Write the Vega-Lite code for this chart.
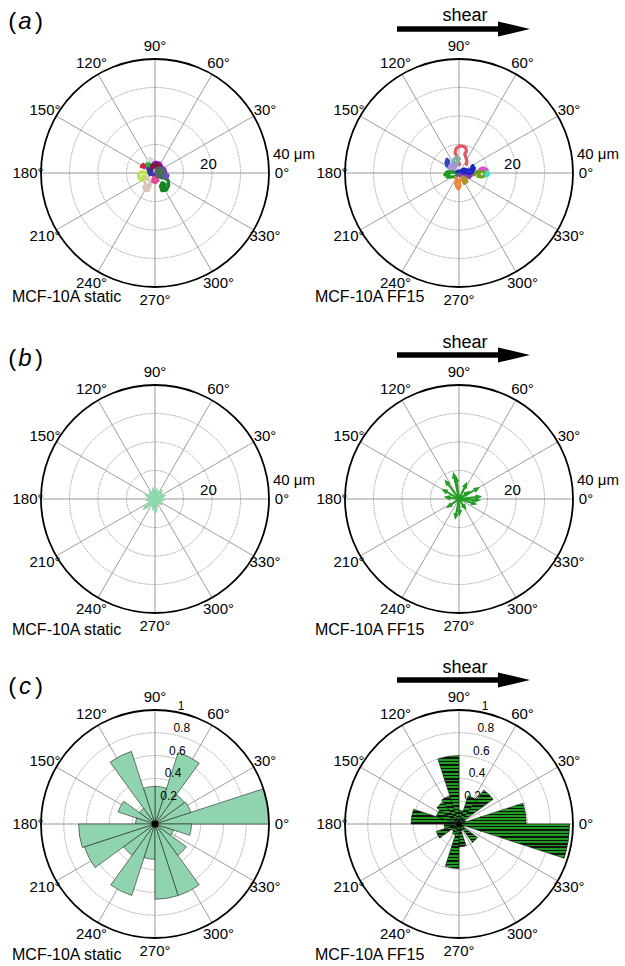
{
"$schema":"https://vega.github.io/schema/vega-lite/v6.json",
"width":625,"height":966,"autosize":{"type":"none"},"padding":0,
"background":"white",
"config":{"font":"Liberation Sans","view":{"stroke":null},"axis":{"disable":true},"legend":{"disable":true},"text":{"color":"#000000"}},
"datasets":{
"angles":[{"deg":0,"label":"0°"},{"deg":30,"label":"30°"},{"deg":60,"label":"60°"},{"deg":90,"label":"90°"},{"deg":120,"label":"120°"},{"deg":150,"label":"150°"},{"deg":180,"label":"180°"},{"deg":210,"label":"210°"},{"deg":240,"label":"240°"},{"deg":270,"label":"270°"},{"deg":300,"label":"300°"},{"deg":330,"label":"330°"}],
"rings40":[{"r":10},{"r":20},{"r":30}],
"rings1":[{"r":0.2},{"r":0.4},{"r":0.6},{"r":0.8}],
"ticks1":[{"r":0.2,"label":"0.2"},{"r":0.4,"label":"0.4"},{"r":0.6,"label":"0.6"},{"r":0.8,"label":"0.8"},{"r":1,"label":"1"}],
"trajS":[
{"id":"s01","t":1,"x":-1.6,"y":1.0},{"id":"s01","t":2,"x":-1.8,"y":2.4},{"id":"s01","t":3,"x":-1.2,"y":3.4},{"id":"s01","t":4,"x":0.4,"y":3.8},{"id":"s01","t":5,"x":1.8,"y":3.4},{"id":"s01","t":6,"x":2.4,"y":2.2},{"id":"s01","t":7,"x":3.4,"y":1.4},{"id":"s01","t":8,"x":3.8,"y":0.2},{"id":"s01","t":9,"x":3.4,"y":-0.8},
{"id":"s02","t":1,"x":-2.6,"y":-0.2},{"id":"s02","t":2,"x":-3.6,"y":0.2},{"id":"s02","t":3,"x":-4.8,"y":0.4},{"id":"s02","t":4,"x":-5.8,"y":-0.4},{"id":"s02","t":5,"x":-5.6,"y":-1.8},{"id":"s02","t":6,"x":-4.6,"y":-2.6},{"id":"s02","t":7,"x":-3.8,"y":-2.0},{"id":"s02","t":8,"x":-4.4,"y":-1.2},{"id":"s02","t":9,"x":-3.4,"y":-1.2},{"id":"s02","t":10,"x":-3.0,"y":-2.2},
{"id":"s03","t":1,"x":-3.4,"y":-1.8},{"id":"s03","t":2,"x":-2.4,"y":-2.2},{"id":"s03","t":3,"x":-1.6,"y":-3.2},{"id":"s03","t":4,"x":-1.8,"y":-4.8},{"id":"s03","t":5,"x":-2.4,"y":-6.2},{"id":"s03","t":6,"x":-3.6,"y":-6.0},{"id":"s03","t":7,"x":-4.0,"y":-4.8},{"id":"s03","t":8,"x":-3.2,"y":-4.2},{"id":"s03","t":9,"x":-2.6,"y":-5.2},{"id":"s03","t":10,"x":-3.6,"y":-3.2},
{"id":"s04","t":1,"x":-0.4,"y":-1.2},{"id":"s04","t":2,"x":0.6,"y":-1.6},{"id":"s04","t":3,"x":0.9,"y":-2.6},{"id":"s04","t":4,"x":0.2,"y":-3.4},{"id":"s04","t":5,"x":-0.8,"y":-3.0},{"id":"s04","t":6,"x":-0.6,"y":-2.0},{"id":"s04","t":7,"x":0.2,"y":-2.4},
{"id":"s05","t":1,"x":2.0,"y":-1.6},{"id":"s05","t":2,"x":3.4,"y":-1.8},{"id":"s05","t":3,"x":4.6,"y":-2.6},{"id":"s05","t":4,"x":4.8,"y":-4.4},{"id":"s05","t":5,"x":4.0,"y":-6.0},{"id":"s05","t":6,"x":2.4,"y":-6.2},{"id":"s05","t":7,"x":1.9,"y":-4.6},{"id":"s05","t":8,"x":2.6,"y":-3.4},{"id":"s05","t":9,"x":3.6,"y":-4.0},{"id":"s05","t":10,"x":3.2,"y":-5.2},{"id":"s05","t":11,"x":2.6,"y":-4.6},
{"id":"s06","t":1,"x":2.4,"y":-0.6},{"id":"s06","t":2,"x":3.6,"y":-0.2},{"id":"s06","t":3,"x":4.6,"y":-0.8},{"id":"s06","t":4,"x":4.2,"y":-1.8},{"id":"s06","t":5,"x":3.2,"y":-1.4},
{"id":"s07","t":1,"x":-4.8,"y":2.2},{"id":"s07","t":2,"x":-4.2,"y":3.0},{"id":"s07","t":3,"x":-3.4,"y":2.6},{"id":"s07","t":4,"x":-3.8,"y":1.8},
{"id":"s08","t":1,"x":-2.8,"y":3.4},{"id":"s08","t":2,"x":-2.0,"y":3.8},{"id":"s08","t":3,"x":-1.6,"y":2.8},{"id":"s08","t":4,"x":-2.6,"y":2.6},
{"id":"s09","t":1,"x":-2.6,"y":4.2},{"id":"s09","t":2,"x":-1.8,"y":5.2},{"id":"s09","t":3,"x":-1.0,"y":4.8},{"id":"s09","t":4,"x":-1.4,"y":4.0},
{"id":"s10","t":1,"x":-2.6,"y":1.6},{"id":"s10","t":2,"x":-2.2,"y":0.4},{"id":"s10","t":3,"x":-1.8,"y":-0.6},{"id":"s10","t":4,"x":-1.2,"y":0.4},{"id":"s10","t":5,"x":-1.4,"y":1.4},
{"id":"s11","t":1,"x":-1.0,"y":-0.6},{"id":"s11","t":2,"x":0.2,"y":-0.4},{"id":"s11","t":3,"x":1.2,"y":-1.0},
{"id":"s12","t":1,"x":-1.0,"y":1.4},{"id":"s12","t":2,"x":-1.2,"y":2.6},{"id":"s12","t":3,"x":-0.2,"y":3.2},{"id":"s12","t":4,"x":1.0,"y":3.3},{"id":"s12","t":5,"x":1.8,"y":2.6},{"id":"s12","t":6,"x":1.0,"y":1.8},{"id":"s12","t":7,"x":0.0,"y":2.0},{"id":"s12","t":8,"x":0.6,"y":2.8},{"id":"s12","t":9,"x":-0.6,"y":2.4},
{"id":"s13","t":1,"x":0.4,"y":0.6},{"id":"s13","t":2,"x":1.0,"y":1.6},{"id":"s13","t":3,"x":2.2,"y":1.8},{"id":"s13","t":4,"x":3.0,"y":0.9},{"id":"s13","t":5,"x":3.0,"y":-0.3},{"id":"s13","t":6,"x":2.4,"y":-1.2},{"id":"s13","t":7,"x":1.2,"y":-1.4},{"id":"s13","t":8,"x":0.4,"y":-0.6},{"id":"s13","t":9,"x":1.0,"y":0.2},{"id":"s13","t":10,"x":2.2,"y":0.6},{"id":"s13","t":11,"x":2.2,"y":-0.6},{"id":"s13","t":12,"x":1.4,"y":-0.4},{"id":"s13","t":13,"x":1.6,"y":0.8}
],
"trajF":[
{"id":"f01","t":1,"x":0.2,"y":3.0},{"id":"f01","t":2,"x":-0.4,"y":4.4},{"id":"f01","t":3,"x":-0.8,"y":5.8},{"id":"f01","t":4,"x":-1.4,"y":7.2},{"id":"f01","t":5,"x":-1.0,"y":8.6},{"id":"f01","t":6,"x":0.0,"y":9.4},{"id":"f01","t":7,"x":1.4,"y":9.4},{"id":"f01","t":8,"x":2.4,"y":8.8},{"id":"f01","t":9,"x":2.6,"y":7.6},{"id":"f01","t":10,"x":2.0,"y":6.6},{"id":"f01","t":11,"x":2.4,"y":5.4},{"id":"f01","t":12,"x":2.8,"y":4.2},{"id":"f01","t":13,"x":2.6,"y":3.0},
{"id":"f02","t":1,"x":-2.2,"y":3.4},{"id":"f02","t":2,"x":-1.8,"y":4.8},{"id":"f02","t":3,"x":-0.8,"y":5.6},{"id":"f02","t":4,"x":0.2,"y":5.0},{"id":"f02","t":5,"x":-0.4,"y":4.0},{"id":"f02","t":6,"x":-1.4,"y":3.6},{"id":"f02","t":7,"x":-0.6,"y":3.0},
{"id":"f03","t":1,"x":-4.2,"y":2.4},{"id":"f03","t":2,"x":-4.6,"y":3.6},{"id":"f03","t":3,"x":-4.2,"y":4.8},{"id":"f03","t":4,"x":-3.6,"y":4.2},{"id":"f03","t":5,"x":-3.8,"y":3.0},
{"id":"f04","t":1,"x":-3.6,"y":1.6},{"id":"f04","t":2,"x":-3.0,"y":2.8},{"id":"f04","t":3,"x":-2.0,"y":3.2},{"id":"f04","t":4,"x":-1.0,"y":2.4},{"id":"f04","t":5,"x":-1.6,"y":1.4},{"id":"f04","t":6,"x":-2.8,"y":1.0},{"id":"f04","t":7,"x":-2.2,"y":2.0},
{"id":"f05","t":1,"x":-5.0,"y":-0.6},{"id":"f05","t":2,"x":-4.2,"y":0.4},{"id":"f05","t":3,"x":-2.8,"y":0.4},{"id":"f05","t":4,"x":-1.4,"y":0.2},{"id":"f05","t":5,"x":-0.4,"y":-0.2},{"id":"f05","t":6,"x":-1.0,"y":-1.2},{"id":"f05","t":7,"x":-2.6,"y":-1.4},{"id":"f05","t":8,"x":-4.2,"y":-1.4},{"id":"f05","t":9,"x":-3.4,"y":-0.4},
{"id":"f06","t":1,"x":5.4,"y":-0.6},{"id":"f06","t":2,"x":6.4,"y":0.6},{"id":"f06","t":3,"x":7.8,"y":0.8},{"id":"f06","t":4,"x":9.0,"y":0.4},{"id":"f06","t":5,"x":9.2,"y":-0.8},{"id":"f06","t":6,"x":8.0,"y":-1.4},{"id":"f06","t":7,"x":6.6,"y":-1.2},{"id":"f06","t":8,"x":7.2,"y":-0.2},
{"id":"f07","t":1,"x":7.4,"y":1.4},{"id":"f07","t":2,"x":8.6,"y":1.8},{"id":"f07","t":3,"x":9.8,"y":1.2},{"id":"f07","t":4,"x":10.0,"y":0.0},
{"id":"f08","t":1,"x":9.4,"y":-0.6},{"id":"f08","t":2,"x":10.0,"y":0.4},{"id":"f08","t":3,"x":10.4,"y":-0.4},{"id":"f08","t":4,"x":9.8,"y":-1.0},
{"id":"f09","t":1,"x":-0.2,"y":-0.6},{"id":"f09","t":2,"x":1.0,"y":-1.2},{"id":"f09","t":3,"x":2.4,"y":-0.8},{"id":"f09","t":4,"x":3.6,"y":-1.6},{"id":"f09","t":5,"x":4.4,"y":-0.8},{"id":"f09","t":6,"x":3.0,"y":0.0},{"id":"f09","t":7,"x":1.6,"y":-0.2},
{"id":"f10","t":1,"x":-1.2,"y":-1.6},{"id":"f10","t":2,"x":-0.6,"y":-2.6},{"id":"f10","t":3,"x":-1.2,"y":-3.6},{"id":"f10","t":4,"x":-0.8,"y":-4.8},{"id":"f10","t":5,"x":-0.2,"y":-5.6},{"id":"f10","t":6,"x":0.4,"y":-4.4},{"id":"f10","t":7,"x":0.0,"y":-3.2},{"id":"f10","t":8,"x":0.6,"y":-2.2},
{"id":"f11","t":1,"x":1.2,"y":-1.4},{"id":"f11","t":2,"x":2.4,"y":-2.0},{"id":"f11","t":3,"x":2.8,"y":-3.0},{"id":"f11","t":4,"x":1.8,"y":-3.6},{"id":"f11","t":5,"x":1.4,"y":-2.6},
{"id":"f12","t":1,"x":-0.8,"y":0.4},{"id":"f12","t":2,"x":0.6,"y":0.8},{"id":"f12","t":3,"x":1.8,"y":1.4},{"id":"f12","t":4,"x":3.0,"y":1.0},{"id":"f12","t":5,"x":4.2,"y":1.2},{"id":"f12","t":6,"x":4.8,"y":2.6},{"id":"f12","t":7,"x":5.4,"y":1.6},{"id":"f12","t":8,"x":4.8,"y":0.2},{"id":"f12","t":9,"x":3.6,"y":-0.2},{"id":"f12","t":10,"x":2.2,"y":0.2},{"id":"f12","t":11,"x":1.0,"y":0.0}
],
"arrS":[{"x":-0.6,"y":3.4,"dir":100},{"x":0.6,"y":3.0,"dir":78.7},{"x":2.2,"y":2.6,"dir":49.8},{"x":3.0,"y":1.0,"dir":18.4},{"x":2.6,"y":-0.4,"dir":351.3},{"x":2.0,"y":-1.6,"dir":321.3},{"x":0.6,"y":-2.4,"dir":284},{"x":0.2,"y":-4.4,"dir":272.6},{"x":-0.6,"y":-3.2,"dir":259.4},{"x":-2.0,"y":-2.2,"dir":227.7},{"x":-3.6,"y":-3.2,"dir":221.6},{"x":-2.6,"y":-0.4,"dir":188.7},{"x":-2.8,"y":1.2,"dir":156.8},{"x":-1.6,"y":2.2,"dir":126},{"x":1.4,"y":-1.2,"dir":319.4}],
"arrF":[{"x":-1.8,"y":8.4,"dir":102.1},{"x":-1.0,"y":7.2,"dir":97.9},{"x":-4.4,"y":6.0,"dir":126.3},{"x":-5.2,"y":3.0,"dir":150},{"x":6.4,"y":3.6,"dir":29.4},{"x":7.0,"y":0.8,"dir":6.5},{"x":6.6,"y":-0.4,"dir":356.5},{"x":5.4,"y":-1.6,"dir":343.5},{"x":3.0,"y":2.2,"dir":36.3},{"x":2.0,"y":-3.0,"dir":303.7},{"x":-1.2,"y":-6.2,"dir":259},{"x":0.2,"y":-5.0,"dir":272.3},{"x":-3.6,"y":-2.6,"dir":215.8},{"x":-4.2,"y":0.6,"dir":171.9},{"x":2.4,"y":5.0,"dir":64.4}],
"roseS":[{"a0":0,"a1":18,"r":1.0},{"a0":18,"a1":36,"r":0.33},{"a0":36,"a1":54,"r":0.32},{"a0":54,"a1":72,"r":0.66},{"a0":72,"a1":90,"r":0.33},{"a0":90,"a1":108,"r":0.33},{"a0":108,"a1":126,"r":0.67},{"a0":126,"a1":144,"r":0.17},{"a0":144,"a1":162,"r":0.34},{"a0":162,"a1":180,"r":0.17},{"a0":180,"a1":198,"r":0.67},{"a0":198,"a1":216,"r":0.65},{"a0":216,"a1":234,"r":0.34},{"a0":234,"a1":252,"r":0.66},{"a0":252,"a1":270,"r":0.31},{"a0":270,"a1":288,"r":0.66},{"a0":288,"a1":306,"r":0.66},{"a0":306,"a1":324,"r":0.34},{"a0":324,"a1":342,"r":0.17},{"a0":342,"a1":360,"r":0.32}],
"roseF":[{"a0":0,"a1":18,"r":0.59},{"a0":18,"a1":36,"r":0.06},{"a0":36,"a1":54,"r":0.37},{"a0":54,"a1":72,"r":0.26},{"a0":72,"a1":90,"r":0.12},{"a0":90,"a1":108,"r":0.6},{"a0":108,"a1":126,"r":0.26},{"a0":126,"a1":144,"r":0.24},{"a0":144,"a1":162,"r":0.21},{"a0":162,"a1":180,"r":0.42},{"a0":180,"a1":198,"r":0.13},{"a0":198,"a1":216,"r":0.21},{"a0":216,"a1":234,"r":0.08},{"a0":234,"a1":252,"r":0.1},{"a0":252,"a1":270,"r":0.39},{"a0":270,"a1":288,"r":0.2},{"a0":288,"a1":306,"r":0.06},{"a0":306,"a1":324,"r":0.2},{"a0":324,"a1":342,"r":0.05},{"a0":342,"a1":360,"r":0.97}]
},
"resolve":{"scale":{"x":"independent","y":"independent","radius":"independent","color":"independent"}},
"layer":[
{"layer":[
{"data":{"name":"angles"},"mark":{"type":"arc","filled":false,"stroke":"#8a8a8a","strokeWidth":0.8,"strokeDash":[1.5,1]},"encoding":{"x":{"datum":0,"type":"quantitative","scale":{"domain":[-54.386,164.912],"nice":false}},"y":{"datum":0,"type":"quantitative","scale":{"domain":[-278.246,60.702],"nice":false}},"theta":{"field":"deg","type":"quantitative","stack":null,"scale":{"domain":[0,360],"range":[1.5707963,-4.712389]}},"theta2":{"field":"deg"},"radius":{"datum":40,"type":"quantitative","scale":{"type":"linear","domain":[0,40],"range":[0,114]}}}},
{"data":{"name":"rings40"},"mark":{"type":"arc","filled":false,"theta":0,"theta2":6.2832,"stroke":"#8a8a8a","strokeWidth":0.8,"strokeDash":[1.5,1]},"encoding":{"x":{"datum":0,"type":"quantitative"},"y":{"datum":0,"type":"quantitative"},"radius":{"field":"r","type":"quantitative","stack":null,"scale":{"type":"linear","domain":[0,40],"range":[0,114]}}}},
{"data":{"values":[{"r":40}]},"mark":{"type":"arc","filled":false,"theta":0,"theta2":6.2832,"stroke":"#000000","strokeWidth":1.8},"encoding":{"x":{"datum":0,"type":"quantitative"},"y":{"datum":0,"type":"quantitative"},"radius":{"field":"r","type":"quantitative","stack":null,"scale":{"type":"linear","domain":[0,40],"range":[0,114]}}}},
{"data":{"name":"angles"},"mark":{"type":"text","fontSize":15,"align":"center","baseline":"middle"},"encoding":{"x":{"datum":0,"type":"quantitative"},"y":{"datum":0,"type":"quantitative"},"theta":{"field":"deg","type":"quantitative","stack":null,"scale":{"domain":[0,360],"range":[1.5707963,-4.712389]}},"radius":{"datum":44.56,"type":"quantitative","scale":{"type":"linear","domain":[0,40],"range":[0,114]}},"text":{"field":"label"}}},
{"data":{"values":[{"r":20,"label":"20"}]},"mark":{"type":"text","fontSize":15,"align":"right","baseline":"middle","dx":5.5},"encoding":{"x":{"datum":0,"type":"quantitative"},"y":{"datum":0,"type":"quantitative"},"theta":{"datum":9.4,"type":"quantitative","scale":{"domain":[0,360],"range":[1.5707963,-4.712389]}},"radius":{"field":"r","type":"quantitative","stack":null,"scale":{"type":"linear","domain":[0,40],"range":[0,114]}},"text":{"field":"label"}}},
{"data":{"values":[{"r":40,"label":"40 μm"}]},"mark":{"type":"text","fontSize":15,"align":"left","baseline":"middle","dx":5.5},"encoding":{"x":{"datum":0,"type":"quantitative"},"y":{"datum":0,"type":"quantitative"},"theta":{"datum":9.6,"type":"quantitative","scale":{"domain":[0,360],"range":[1.5707963,-4.712389]}},"radius":{"field":"r","type":"quantitative","stack":null,"scale":{"type":"linear","domain":[0,40],"range":[0,114]}},"text":{"field":"label"}}},
{"data":{"name":"trajS"},"mark":{"type":"line","strokeWidth":3.2,"strokeJoin":"round","strokeCap":"round"},"encoding":{"x":{"field":"x","type":"quantitative"},"y":{"field":"y","type":"quantitative"},"color":{"field":"id","type":"nominal","scale":{"domain":["s01","s02","s03","s04","s05","s06","s07","s08","s09","s10","s11","s12","s13"],"range":["#a21cf0","#b8e34c","#d9c6b8","#e5489a","#15861f","#6c50d2","#d3243f","#26b031","#cfe5d7","#2e3a9e","#5a2ab0","#7d1747","#4c6b5e"]}},"order":{"field":"t"}}},
{"data":{"values":[{}]},"mark":{"type":"text","text":"MCF-10A static","fontSize":16,"align":"left","baseline":"alphabetic"},"encoding":{"x":{"datum":-50.18,"type":"quantitative"},"y":{"datum":-45.16,"type":"quantitative"}}},
{"data":{"values":[{}]},"mark":{"type":"text","text":"(","fontSize":24,"align":"center","baseline":"middle"},"encoding":{"x":{"datum":-50.07,"type":"quantitative"},"y":{"datum":52.98,"type":"quantitative"}}},
{"data":{"values":[{}]},"mark":{"type":"text","text":"a","fontSize":24,"fontStyle":"italic","align":"center","baseline":"middle"},"encoding":{"x":{"datum":-45.61,"type":"quantitative"},"y":{"datum":52.98,"type":"quantitative"}}},
{"data":{"values":[{}]},"mark":{"type":"text","text":")","fontSize":24,"align":"center","baseline":"middle"},"encoding":{"x":{"datum":-40.7,"type":"quantitative"},"y":{"datum":52.98,"type":"quantitative"}}}
]},
{"layer":[
{"data":{"name":"angles"},"mark":{"type":"arc","filled":false,"stroke":"#8a8a8a","strokeWidth":0.8,"strokeDash":[1.5,1]},"encoding":{"x":{"datum":0,"type":"quantitative","scale":{"domain":[-161.053,58.246],"nice":false}},"y":{"datum":0,"type":"quantitative","scale":{"domain":[-278.246,60.702],"nice":false}},"theta":{"field":"deg","type":"quantitative","stack":null,"scale":{"domain":[0,360],"range":[1.5707963,-4.712389]}},"theta2":{"field":"deg"},"radius":{"datum":40,"type":"quantitative","scale":{"type":"linear","domain":[0,40],"range":[0,114]}}}},
{"data":{"name":"rings40"},"mark":{"type":"arc","filled":false,"theta":0,"theta2":6.2832,"stroke":"#8a8a8a","strokeWidth":0.8,"strokeDash":[1.5,1]},"encoding":{"x":{"datum":0,"type":"quantitative"},"y":{"datum":0,"type":"quantitative"},"radius":{"field":"r","type":"quantitative","stack":null,"scale":{"type":"linear","domain":[0,40],"range":[0,114]}}}},
{"data":{"values":[{"r":40}]},"mark":{"type":"arc","filled":false,"theta":0,"theta2":6.2832,"stroke":"#000000","strokeWidth":1.8},"encoding":{"x":{"datum":0,"type":"quantitative"},"y":{"datum":0,"type":"quantitative"},"radius":{"field":"r","type":"quantitative","stack":null,"scale":{"type":"linear","domain":[0,40],"range":[0,114]}}}},
{"data":{"name":"angles"},"mark":{"type":"text","fontSize":15,"align":"center","baseline":"middle"},"encoding":{"x":{"datum":0,"type":"quantitative"},"y":{"datum":0,"type":"quantitative"},"theta":{"field":"deg","type":"quantitative","stack":null,"scale":{"domain":[0,360],"range":[1.5707963,-4.712389]}},"radius":{"datum":44.56,"type":"quantitative","scale":{"type":"linear","domain":[0,40],"range":[0,114]}},"text":{"field":"label"}}},
{"data":{"values":[{"r":20,"label":"20"}]},"mark":{"type":"text","fontSize":15,"align":"right","baseline":"middle","dx":5.5},"encoding":{"x":{"datum":0,"type":"quantitative"},"y":{"datum":0,"type":"quantitative"},"theta":{"datum":9.4,"type":"quantitative","scale":{"domain":[0,360],"range":[1.5707963,-4.712389]}},"radius":{"field":"r","type":"quantitative","stack":null,"scale":{"type":"linear","domain":[0,40],"range":[0,114]}},"text":{"field":"label"}}},
{"data":{"values":[{"r":40,"label":"40 μm"}]},"mark":{"type":"text","fontSize":15,"align":"left","baseline":"middle","dx":5.5},"encoding":{"x":{"datum":0,"type":"quantitative"},"y":{"datum":0,"type":"quantitative"},"theta":{"datum":9.6,"type":"quantitative","scale":{"domain":[0,360],"range":[1.5707963,-4.712389]}},"radius":{"field":"r","type":"quantitative","stack":null,"scale":{"type":"linear","domain":[0,40],"range":[0,114]}},"text":{"field":"label"}}},
{"data":{"name":"trajF"},"mark":{"type":"line","strokeWidth":3.2,"strokeJoin":"round","strokeCap":"round"},"encoding":{"x":{"field":"x","type":"quantitative"},"y":{"field":"y","type":"quantitative"},"color":{"field":"id","type":"nominal","scale":{"domain":["f01","f02","f03","f04","f05","f06","f07","f08","f09","f10","f11","f12"],"range":["#e25866","#7cb6a6","#2b45c6","#a896d8","#1e9a22","#6f9f14","#e348da","#38dcd2","#8a3eb0","#f2843a","#a89424","#1f25c4"]}},"order":{"field":"t"}}},
{"data":{"values":[{}]},"mark":{"type":"text","text":"MCF-10A FF15","fontSize":16,"align":"left","baseline":"alphabetic"},"encoding":{"x":{"datum":-50.53,"type":"quantitative"},"y":{"datum":-45.16,"type":"quantitative"}}},
{"data":{"values":[{}]},"mark":{"type":"rule","color":"#000000","strokeWidth":5.5},"encoding":{"x":{"datum":-21.75,"type":"quantitative"},"x2":{"datum":13.9},"y":{"datum":50.53,"type":"quantitative"}}},
{"data":{"values":[{}]},"mark":{"type":"point","shape":"M-1,-0.47L1,0L-1,0.47Z","size":1024,"filled":true,"color":"#000000","opacity":1,"strokeWidth":0},"encoding":{"x":{"datum":19.3,"type":"quantitative"},"y":{"datum":50.53,"type":"quantitative"}}},
{"data":{"values":[{}]},"mark":{"type":"text","text":"shear","fontSize":18,"align":"center","baseline":"alphabetic"},"encoding":{"x":{"datum":2.1,"type":"quantitative"},"y":{"datum":53.33,"type":"quantitative"}}}
]},
{"layer":[
{"data":{"name":"angles"},"mark":{"type":"arc","filled":false,"stroke":"#8a8a8a","strokeWidth":0.8,"strokeDash":[1.5,1]},"encoding":{"x":{"datum":0,"type":"quantitative","scale":{"domain":[-54.386,164.912],"nice":false}},"y":{"datum":0,"type":"quantitative","scale":{"domain":[-163.86,175.088],"nice":false}},"theta":{"field":"deg","type":"quantitative","stack":null,"scale":{"domain":[0,360],"range":[1.5707963,-4.712389]}},"theta2":{"field":"deg"},"radius":{"datum":40,"type":"quantitative","scale":{"type":"linear","domain":[0,40],"range":[0,114]}}}},
{"data":{"name":"rings40"},"mark":{"type":"arc","filled":false,"theta":0,"theta2":6.2832,"stroke":"#8a8a8a","strokeWidth":0.8,"strokeDash":[1.5,1]},"encoding":{"x":{"datum":0,"type":"quantitative"},"y":{"datum":0,"type":"quantitative"},"radius":{"field":"r","type":"quantitative","stack":null,"scale":{"type":"linear","domain":[0,40],"range":[0,114]}}}},
{"data":{"values":[{"r":40}]},"mark":{"type":"arc","filled":false,"theta":0,"theta2":6.2832,"stroke":"#000000","strokeWidth":1.8},"encoding":{"x":{"datum":0,"type":"quantitative"},"y":{"datum":0,"type":"quantitative"},"radius":{"field":"r","type":"quantitative","stack":null,"scale":{"type":"linear","domain":[0,40],"range":[0,114]}}}},
{"data":{"name":"angles"},"mark":{"type":"text","fontSize":15,"align":"center","baseline":"middle"},"encoding":{"x":{"datum":0,"type":"quantitative"},"y":{"datum":0,"type":"quantitative"},"theta":{"field":"deg","type":"quantitative","stack":null,"scale":{"domain":[0,360],"range":[1.5707963,-4.712389]}},"radius":{"datum":44.56,"type":"quantitative","scale":{"type":"linear","domain":[0,40],"range":[0,114]}},"text":{"field":"label"}}},
{"data":{"values":[{"r":20,"label":"20"}]},"mark":{"type":"text","fontSize":15,"align":"right","baseline":"middle","dx":5.5},"encoding":{"x":{"datum":0,"type":"quantitative"},"y":{"datum":0,"type":"quantitative"},"theta":{"datum":9.4,"type":"quantitative","scale":{"domain":[0,360],"range":[1.5707963,-4.712389]}},"radius":{"field":"r","type":"quantitative","stack":null,"scale":{"type":"linear","domain":[0,40],"range":[0,114]}},"text":{"field":"label"}}},
{"data":{"values":[{"r":40,"label":"40 μm"}]},"mark":{"type":"text","fontSize":15,"align":"left","baseline":"middle","dx":5.5},"encoding":{"x":{"datum":0,"type":"quantitative"},"y":{"datum":0,"type":"quantitative"},"theta":{"datum":9.6,"type":"quantitative","scale":{"domain":[0,360],"range":[1.5707963,-4.712389]}},"radius":{"field":"r","type":"quantitative","stack":null,"scale":{"type":"linear","domain":[0,40],"range":[0,114]}},"text":{"field":"label"}}},
{"data":{"name":"arrS"},"mark":{"type":"rule","color":"#8cd9a9","strokeWidth":2},"encoding":{"x":{"field":"x","type":"quantitative"},"x2":{"datum":0},"y":{"field":"y","type":"quantitative"},"y2":{"datum":0}}},
{"data":{"name":"arrS"},"mark":{"type":"point","shape":"M-1,-0.8L1,0L-1,0.8Z","size":40,"filled":true,"color":"#8cd9a9","opacity":1,"strokeWidth":0},"encoding":{"x":{"field":"x","type":"quantitative"},"y":{"field":"y","type":"quantitative"},"angle":{"field":"dir","type":"quantitative","scale":{"domain":[0,360],"range":[360,0]}}}},
{"data":{"values":[{}]},"mark":{"type":"text","text":"MCF-10A static","fontSize":16,"align":"left","baseline":"alphabetic"},"encoding":{"x":{"datum":-50.18,"type":"quantitative"},"y":{"datum":-47.72,"type":"quantitative"}}},
{"data":{"values":[{}]},"mark":{"type":"text","text":"(","fontSize":24,"align":"center","baseline":"middle"},"encoding":{"x":{"datum":-50.07,"type":"quantitative"},"y":{"datum":49.12,"type":"quantitative"}}},
{"data":{"values":[{}]},"mark":{"type":"text","text":"b","fontSize":24,"fontStyle":"italic","align":"center","baseline":"middle"},"encoding":{"x":{"datum":-45.61,"type":"quantitative"},"y":{"datum":49.12,"type":"quantitative"}}},
{"data":{"values":[{}]},"mark":{"type":"text","text":")","fontSize":24,"align":"center","baseline":"middle"},"encoding":{"x":{"datum":-40.7,"type":"quantitative"},"y":{"datum":49.12,"type":"quantitative"}}}
]},
{"layer":[
{"data":{"name":"angles"},"mark":{"type":"arc","filled":false,"stroke":"#8a8a8a","strokeWidth":0.8,"strokeDash":[1.5,1]},"encoding":{"x":{"datum":0,"type":"quantitative","scale":{"domain":[-161.053,58.246],"nice":false}},"y":{"datum":0,"type":"quantitative","scale":{"domain":[-163.86,175.088],"nice":false}},"theta":{"field":"deg","type":"quantitative","stack":null,"scale":{"domain":[0,360],"range":[1.5707963,-4.712389]}},"theta2":{"field":"deg"},"radius":{"datum":40,"type":"quantitative","scale":{"type":"linear","domain":[0,40],"range":[0,114]}}}},
{"data":{"name":"rings40"},"mark":{"type":"arc","filled":false,"theta":0,"theta2":6.2832,"stroke":"#8a8a8a","strokeWidth":0.8,"strokeDash":[1.5,1]},"encoding":{"x":{"datum":0,"type":"quantitative"},"y":{"datum":0,"type":"quantitative"},"radius":{"field":"r","type":"quantitative","stack":null,"scale":{"type":"linear","domain":[0,40],"range":[0,114]}}}},
{"data":{"values":[{"r":40}]},"mark":{"type":"arc","filled":false,"theta":0,"theta2":6.2832,"stroke":"#000000","strokeWidth":1.8},"encoding":{"x":{"datum":0,"type":"quantitative"},"y":{"datum":0,"type":"quantitative"},"radius":{"field":"r","type":"quantitative","stack":null,"scale":{"type":"linear","domain":[0,40],"range":[0,114]}}}},
{"data":{"name":"angles"},"mark":{"type":"text","fontSize":15,"align":"center","baseline":"middle"},"encoding":{"x":{"datum":0,"type":"quantitative"},"y":{"datum":0,"type":"quantitative"},"theta":{"field":"deg","type":"quantitative","stack":null,"scale":{"domain":[0,360],"range":[1.5707963,-4.712389]}},"radius":{"datum":44.56,"type":"quantitative","scale":{"type":"linear","domain":[0,40],"range":[0,114]}},"text":{"field":"label"}}},
{"data":{"values":[{"r":20,"label":"20"}]},"mark":{"type":"text","fontSize":15,"align":"right","baseline":"middle","dx":5.5},"encoding":{"x":{"datum":0,"type":"quantitative"},"y":{"datum":0,"type":"quantitative"},"theta":{"datum":9.4,"type":"quantitative","scale":{"domain":[0,360],"range":[1.5707963,-4.712389]}},"radius":{"field":"r","type":"quantitative","stack":null,"scale":{"type":"linear","domain":[0,40],"range":[0,114]}},"text":{"field":"label"}}},
{"data":{"values":[{"r":40,"label":"40 μm"}]},"mark":{"type":"text","fontSize":15,"align":"left","baseline":"middle","dx":5.5},"encoding":{"x":{"datum":0,"type":"quantitative"},"y":{"datum":0,"type":"quantitative"},"theta":{"datum":9.6,"type":"quantitative","scale":{"domain":[0,360],"range":[1.5707963,-4.712389]}},"radius":{"field":"r","type":"quantitative","stack":null,"scale":{"type":"linear","domain":[0,40],"range":[0,114]}},"text":{"field":"label"}}},
{"data":{"name":"arrF"},"mark":{"type":"rule","color":"#229c22","strokeWidth":2},"encoding":{"x":{"field":"x","type":"quantitative"},"x2":{"datum":0},"y":{"field":"y","type":"quantitative"},"y2":{"datum":0}}},
{"data":{"name":"arrF"},"mark":{"type":"point","shape":"M-1,-0.8L1,0L-1,0.8Z","size":45,"filled":true,"color":"#229c22","opacity":1,"strokeWidth":0},"encoding":{"x":{"field":"x","type":"quantitative"},"y":{"field":"y","type":"quantitative"},"angle":{"field":"dir","type":"quantitative","scale":{"domain":[0,360],"range":[360,0]}}}},
{"data":{"values":[{}]},"mark":{"type":"text","text":"MCF-10A FF15","fontSize":16,"align":"left","baseline":"alphabetic"},"encoding":{"x":{"datum":-50.53,"type":"quantitative"},"y":{"datum":-47.72,"type":"quantitative"}}},
{"data":{"values":[{}]},"mark":{"type":"rule","color":"#000000","strokeWidth":5.5},"encoding":{"x":{"datum":-21.75,"type":"quantitative"},"x2":{"datum":13.9},"y":{"datum":50.53,"type":"quantitative"}}},
{"data":{"values":[{}]},"mark":{"type":"point","shape":"M-1,-0.47L1,0L-1,0.47Z","size":1024,"filled":true,"color":"#000000","opacity":1,"strokeWidth":0},"encoding":{"x":{"datum":19.3,"type":"quantitative"},"y":{"datum":50.53,"type":"quantitative"}}},
{"data":{"values":[{}]},"mark":{"type":"text","text":"shear","fontSize":18,"align":"center","baseline":"alphabetic"},"encoding":{"x":{"datum":2.1,"type":"quantitative"},"y":{"datum":53.09,"type":"quantitative"}}}
]},
{"layer":[
{"data":{"name":"rings1"},"mark":{"type":"arc","filled":false,"theta":0,"theta2":6.2832,"stroke":"#8a8a8a","strokeWidth":0.8,"strokeDash":[1.5,1]},"encoding":{"x":{"datum":0,"type":"quantitative","scale":{"domain":[-1.35965,4.12281],"nice":false}},"y":{"datum":0,"type":"quantitative","scale":{"domain":[-1.24561,7.22807],"nice":false}},"radius":{"field":"r","type":"quantitative","stack":null,"scale":{"type":"linear","domain":[0,1],"range":[0,114]}}}},
{"data":{"name":"angles"},"mark":{"type":"arc","filled":false,"stroke":"#8a8a8a","strokeWidth":0.8,"strokeDash":[1.5,1]},"encoding":{"x":{"datum":0,"type":"quantitative"},"y":{"datum":0,"type":"quantitative"},"theta":{"field":"deg","type":"quantitative","stack":null,"scale":{"domain":[0,360],"range":[1.5707963,-4.712389]}},"theta2":{"field":"deg"},"radius":{"datum":1,"type":"quantitative","scale":{"type":"linear","domain":[0,1],"range":[0,114]}}}},
{"data":{"name":"roseS"},"mark":{"type":"arc","fill":"#8fd4ae","stroke":"#222222","strokeWidth":0.6},"encoding":{"x":{"datum":0,"type":"quantitative"},"y":{"datum":0,"type":"quantitative"},"theta":{"field":"a0","type":"quantitative","stack":null,"scale":{"domain":[0,360],"range":[1.5707963,-4.712389]}},"theta2":{"field":"a1"},"radius":{"field":"r","type":"quantitative","stack":null,"scale":{"type":"linear","domain":[0,1],"range":[0,114]}}}},
{"data":{"values":[{"r":1}]},"mark":{"type":"arc","filled":false,"theta":0,"theta2":6.2832,"stroke":"#000000","strokeWidth":1.8},"encoding":{"x":{"datum":0,"type":"quantitative"},"y":{"datum":0,"type":"quantitative"},"radius":{"field":"r","type":"quantitative","stack":null,"scale":{"type":"linear","domain":[0,1],"range":[0,114]}}}},
{"data":{"values":[{}]},"mark":{"type":"arc","theta":0,"theta2":6.2832,"fill":"#000000"},"encoding":{"x":{"datum":0,"type":"quantitative"},"y":{"datum":0,"type":"quantitative"},"radius":{"datum":0.03,"type":"quantitative","scale":{"type":"linear","domain":[0,1],"range":[0,114]}}}},
{"data":{"name":"angles"},"mark":{"type":"text","fontSize":15,"align":"center","baseline":"middle"},"encoding":{"x":{"datum":0,"type":"quantitative"},"y":{"datum":0,"type":"quantitative"},"theta":{"field":"deg","type":"quantitative","stack":null,"scale":{"domain":[0,360],"range":[1.5707963,-4.712389]}},"radius":{"datum":1.114,"type":"quantitative","scale":{"type":"linear","domain":[0,1],"range":[0,114]}},"text":{"field":"label"}}},
{"data":{"name":"ticks1"},"mark":{"type":"text","fontSize":12,"align":"left","baseline":"middle","dx":1,"dy":-6,"color":"#000000"},"encoding":{"x":{"datum":0,"type":"quantitative"},"y":{"datum":0,"type":"quantitative"},"theta":{"datum":79,"type":"quantitative","scale":{"domain":[0,360],"range":[1.5707963,-4.712389]}},"radius":{"field":"r","type":"quantitative","stack":null,"scale":{"type":"linear","domain":[0,1],"range":[0,114]}},"text":{"field":"label"}}},
{"data":{"values":[{}]},"mark":{"type":"text","text":"MCF-10A static","fontSize":16,"align":"left","baseline":"alphabetic"},"encoding":{"x":{"datum":-1.254,"type":"quantitative"},"y":{"datum":-1.193,"type":"quantitative"}}},
{"data":{"values":[{}]},"mark":{"type":"text","text":"(","fontSize":24,"align":"center","baseline":"middle"},"encoding":{"x":{"datum":-1.2518,"type":"quantitative"},"y":{"datum":1.2044,"type":"quantitative"}}},
{"data":{"values":[{}]},"mark":{"type":"text","text":"c","fontSize":24,"fontStyle":"italic","align":"center","baseline":"middle"},"encoding":{"x":{"datum":-1.1404,"type":"quantitative"},"y":{"datum":1.2044,"type":"quantitative"}}},
{"data":{"values":[{}]},"mark":{"type":"text","text":")","fontSize":24,"align":"center","baseline":"middle"},"encoding":{"x":{"datum":-1.0175,"type":"quantitative"},"y":{"datum":1.2044,"type":"quantitative"}}}
]},
{"layer":[
{"data":{"name":"rings1"},"mark":{"type":"arc","filled":false,"theta":0,"theta2":6.2832,"stroke":"#8a8a8a","strokeWidth":0.8,"strokeDash":[1.5,1]},"encoding":{"x":{"datum":0,"type":"quantitative","scale":{"domain":[-4.02632,1.45614],"nice":false}},"y":{"datum":0,"type":"quantitative","scale":{"domain":[-1.24561,7.22807],"nice":false}},"radius":{"field":"r","type":"quantitative","stack":null,"scale":{"type":"linear","domain":[0,1],"range":[0,114]}}}},
{"data":{"name":"angles"},"mark":{"type":"arc","filled":false,"stroke":"#8a8a8a","strokeWidth":0.8,"strokeDash":[1.5,1]},"encoding":{"x":{"datum":0,"type":"quantitative"},"y":{"datum":0,"type":"quantitative"},"theta":{"field":"deg","type":"quantitative","stack":null,"scale":{"domain":[0,360],"range":[1.5707963,-4.712389]}},"theta2":{"field":"deg"},"radius":{"datum":1,"type":"quantitative","scale":{"type":"linear","domain":[0,1],"range":[0,114]}}}},
{"data":{"name":"roseF"},"transform":[{"filter":{"field":"a0","oneOf":[18,180,216,288,324]}}],"mark":{"type":"arc","stroke":"#111111","strokeWidth":0.6,"fill":{"gradient":"linear","x1":0,"y1":0,"x2":0,"y2":1,"stops":[{"offset":0,"color":"#1f9d1f"},{"offset":0.275,"color":"#1f9d1f"},{"offset":0.275,"color":"#111111"},{"offset":0.5,"color":"#111111"},{"offset":0.5,"color":"#1f9d1f"},{"offset":0.775,"color":"#1f9d1f"},{"offset":0.775,"color":"#111111"},{"offset":1,"color":"#111111"}]}},"encoding":{"x":{"datum":0,"type":"quantitative"},"y":{"datum":0,"type":"quantitative"},"theta":{"field":"a0","type":"quantitative","stack":null,"scale":{"domain":[0,360],"range":[1.5707963,-4.712389]}},"theta2":{"field":"a1"},"radius":{"field":"r","type":"quantitative","stack":null,"scale":{"type":"linear","domain":[0,1],"range":[0,114]}}}},
{"data":{"name":"roseF"},"transform":[{"filter":{"field":"a0","oneOf":[72,144,162,198,234]}}],"mark":{"type":"arc","stroke":"#111111","strokeWidth":0.6,"fill":{"gradient":"linear","x1":0,"y1":0,"x2":0,"y2":1,"stops":[{"offset":0,"color":"#1f9d1f"},{"offset":0.1375,"color":"#1f9d1f"},{"offset":0.1375,"color":"#111111"},{"offset":0.25,"color":"#111111"},{"offset":0.25,"color":"#1f9d1f"},{"offset":0.3875,"color":"#1f9d1f"},{"offset":0.3875,"color":"#111111"},{"offset":0.5,"color":"#111111"},{"offset":0.5,"color":"#1f9d1f"},{"offset":0.6375,"color":"#1f9d1f"},{"offset":0.6375,"color":"#111111"},{"offset":0.75,"color":"#111111"},{"offset":0.75,"color":"#1f9d1f"},{"offset":0.8875,"color":"#1f9d1f"},{"offset":0.8875,"color":"#111111"},{"offset":1,"color":"#111111"}]}},"encoding":{"x":{"datum":0,"type":"quantitative"},"y":{"datum":0,"type":"quantitative"},"theta":{"field":"a0","type":"quantitative","stack":null,"scale":{"domain":[0,360],"range":[1.5707963,-4.712389]}},"theta2":{"field":"a1"},"radius":{"field":"r","type":"quantitative","stack":null,"scale":{"type":"linear","domain":[0,1],"range":[0,114]}}}},
{"data":{"name":"roseF"},"transform":[{"filter":{"field":"a0","oneOf":[0,54,108,126,270,306]}}],"mark":{"type":"arc","stroke":"#111111","strokeWidth":0.6,"fill":{"gradient":"linear","x1":0,"y1":0,"x2":0,"y2":1,"stops":[{"offset":0,"color":"#1f9d1f"},{"offset":0.0786,"color":"#1f9d1f"},{"offset":0.0786,"color":"#111111"},{"offset":0.1429,"color":"#111111"},{"offset":0.1429,"color":"#1f9d1f"},{"offset":0.2214,"color":"#1f9d1f"},{"offset":0.2214,"color":"#111111"},{"offset":0.2857,"color":"#111111"},{"offset":0.2857,"color":"#1f9d1f"},{"offset":0.3643,"color":"#1f9d1f"},{"offset":0.3643,"color":"#111111"},{"offset":0.4286,"color":"#111111"},{"offset":0.4286,"color":"#1f9d1f"},{"offset":0.5071,"color":"#1f9d1f"},{"offset":0.5071,"color":"#111111"},{"offset":0.5714,"color":"#111111"},{"offset":0.5714,"color":"#1f9d1f"},{"offset":0.65,"color":"#1f9d1f"},{"offset":0.65,"color":"#111111"},{"offset":0.7143,"color":"#111111"},{"offset":0.7143,"color":"#1f9d1f"},{"offset":0.7929,"color":"#1f9d1f"},{"offset":0.7929,"color":"#111111"},{"offset":0.8571,"color":"#111111"},{"offset":0.8571,"color":"#1f9d1f"},{"offset":0.9357,"color":"#1f9d1f"},{"offset":0.9357,"color":"#111111"},{"offset":1,"color":"#111111"}]}},"encoding":{"x":{"datum":0,"type":"quantitative"},"y":{"datum":0,"type":"quantitative"},"theta":{"field":"a0","type":"quantitative","stack":null,"scale":{"domain":[0,360],"range":[1.5707963,-4.712389]}},"theta2":{"field":"a1"},"radius":{"field":"r","type":"quantitative","stack":null,"scale":{"type":"linear","domain":[0,1],"range":[0,114]}}}},
{"data":{"name":"roseF"},"transform":[{"filter":{"field":"a0","oneOf":[36,342]}}],"mark":{"type":"arc","stroke":"#111111","strokeWidth":0.6,"fill":{"gradient":"linear","x1":0,"y1":0,"x2":0,"y2":1,"stops":[{"offset":0,"color":"#1f9d1f"},{"offset":0.055,"color":"#1f9d1f"},{"offset":0.055,"color":"#111111"},{"offset":0.1,"color":"#111111"},{"offset":0.1,"color":"#1f9d1f"},{"offset":0.155,"color":"#1f9d1f"},{"offset":0.155,"color":"#111111"},{"offset":0.2,"color":"#111111"},{"offset":0.2,"color":"#1f9d1f"},{"offset":0.255,"color":"#1f9d1f"},{"offset":0.255,"color":"#111111"},{"offset":0.3,"color":"#111111"},{"offset":0.3,"color":"#1f9d1f"},{"offset":0.355,"color":"#1f9d1f"},{"offset":0.355,"color":"#111111"},{"offset":0.4,"color":"#111111"},{"offset":0.4,"color":"#1f9d1f"},{"offset":0.455,"color":"#1f9d1f"},{"offset":0.455,"color":"#111111"},{"offset":0.5,"color":"#111111"},{"offset":0.5,"color":"#1f9d1f"},{"offset":0.555,"color":"#1f9d1f"},{"offset":0.555,"color":"#111111"},{"offset":0.6,"color":"#111111"},{"offset":0.6,"color":"#1f9d1f"},{"offset":0.655,"color":"#1f9d1f"},{"offset":0.655,"color":"#111111"},{"offset":0.7,"color":"#111111"},{"offset":0.7,"color":"#1f9d1f"},{"offset":0.755,"color":"#1f9d1f"},{"offset":0.755,"color":"#111111"},{"offset":0.8,"color":"#111111"},{"offset":0.8,"color":"#1f9d1f"},{"offset":0.855,"color":"#1f9d1f"},{"offset":0.855,"color":"#111111"},{"offset":0.9,"color":"#111111"},{"offset":0.9,"color":"#1f9d1f"},{"offset":0.955,"color":"#1f9d1f"},{"offset":0.955,"color":"#111111"},{"offset":1,"color":"#111111"}]}},"encoding":{"x":{"datum":0,"type":"quantitative"},"y":{"datum":0,"type":"quantitative"},"theta":{"field":"a0","type":"quantitative","stack":null,"scale":{"domain":[0,360],"range":[1.5707963,-4.712389]}},"theta2":{"field":"a1"},"radius":{"field":"r","type":"quantitative","stack":null,"scale":{"type":"linear","domain":[0,1],"range":[0,114]}}}},
{"data":{"name":"roseF"},"transform":[{"filter":{"field":"a0","oneOf":[252]}}],"mark":{"type":"arc","stroke":"#111111","strokeWidth":0.6,"fill":{"gradient":"linear","x1":0,"y1":0,"x2":0,"y2":1,"stops":[{"offset":0,"color":"#1f9d1f"},{"offset":0.0423,"color":"#1f9d1f"},{"offset":0.0423,"color":"#111111"},{"offset":0.0769,"color":"#111111"},{"offset":0.0769,"color":"#1f9d1f"},{"offset":0.1192,"color":"#1f9d1f"},{"offset":0.1192,"color":"#111111"},{"offset":0.1538,"color":"#111111"},{"offset":0.1538,"color":"#1f9d1f"},{"offset":0.1962,"color":"#1f9d1f"},{"offset":0.1962,"color":"#111111"},{"offset":0.2308,"color":"#111111"},{"offset":0.2308,"color":"#1f9d1f"},{"offset":0.2731,"color":"#1f9d1f"},{"offset":0.2731,"color":"#111111"},{"offset":0.3077,"color":"#111111"},{"offset":0.3077,"color":"#1f9d1f"},{"offset":0.35,"color":"#1f9d1f"},{"offset":0.35,"color":"#111111"},{"offset":0.3846,"color":"#111111"},{"offset":0.3846,"color":"#1f9d1f"},{"offset":0.4269,"color":"#1f9d1f"},{"offset":0.4269,"color":"#111111"},{"offset":0.4615,"color":"#111111"},{"offset":0.4615,"color":"#1f9d1f"},{"offset":0.5038,"color":"#1f9d1f"},{"offset":0.5038,"color":"#111111"},{"offset":0.5385,"color":"#111111"},{"offset":0.5385,"color":"#1f9d1f"},{"offset":0.5808,"color":"#1f9d1f"},{"offset":0.5808,"color":"#111111"},{"offset":0.6154,"color":"#111111"},{"offset":0.6154,"color":"#1f9d1f"},{"offset":0.6577,"color":"#1f9d1f"},{"offset":0.6577,"color":"#111111"},{"offset":0.6923,"color":"#111111"},{"offset":0.6923,"color":"#1f9d1f"},{"offset":0.7346,"color":"#1f9d1f"},{"offset":0.7346,"color":"#111111"},{"offset":0.7692,"color":"#111111"},{"offset":0.7692,"color":"#1f9d1f"},{"offset":0.8115,"color":"#1f9d1f"},{"offset":0.8115,"color":"#111111"},{"offset":0.8462,"color":"#111111"},{"offset":0.8462,"color":"#1f9d1f"},{"offset":0.8885,"color":"#1f9d1f"},{"offset":0.8885,"color":"#111111"},{"offset":0.9231,"color":"#111111"},{"offset":0.9231,"color":"#1f9d1f"},{"offset":0.9654,"color":"#1f9d1f"},{"offset":0.9654,"color":"#111111"},{"offset":1,"color":"#111111"}]}},"encoding":{"x":{"datum":0,"type":"quantitative"},"y":{"datum":0,"type":"quantitative"},"theta":{"field":"a0","type":"quantitative","stack":null,"scale":{"domain":[0,360],"range":[1.5707963,-4.712389]}},"theta2":{"field":"a1"},"radius":{"field":"r","type":"quantitative","stack":null,"scale":{"type":"linear","domain":[0,1],"range":[0,114]}}}},
{"data":{"name":"roseF"},"transform":[{"filter":{"field":"a0","oneOf":[90]}}],"mark":{"type":"arc","stroke":"#111111","strokeWidth":0.6,"fill":{"gradient":"linear","x1":0,"y1":0,"x2":0,"y2":1,"stops":[{"offset":0,"color":"#1f9d1f"},{"offset":0.0275,"color":"#1f9d1f"},{"offset":0.0275,"color":"#111111"},{"offset":0.05,"color":"#111111"},{"offset":0.05,"color":"#1f9d1f"},{"offset":0.0775,"color":"#1f9d1f"},{"offset":0.0775,"color":"#111111"},{"offset":0.1,"color":"#111111"},{"offset":0.1,"color":"#1f9d1f"},{"offset":0.1275,"color":"#1f9d1f"},{"offset":0.1275,"color":"#111111"},{"offset":0.15,"color":"#111111"},{"offset":0.15,"color":"#1f9d1f"},{"offset":0.1775,"color":"#1f9d1f"},{"offset":0.1775,"color":"#111111"},{"offset":0.2,"color":"#111111"},{"offset":0.2,"color":"#1f9d1f"},{"offset":0.2275,"color":"#1f9d1f"},{"offset":0.2275,"color":"#111111"},{"offset":0.25,"color":"#111111"},{"offset":0.25,"color":"#1f9d1f"},{"offset":0.2775,"color":"#1f9d1f"},{"offset":0.2775,"color":"#111111"},{"offset":0.3,"color":"#111111"},{"offset":0.3,"color":"#1f9d1f"},{"offset":0.3275,"color":"#1f9d1f"},{"offset":0.3275,"color":"#111111"},{"offset":0.35,"color":"#111111"},{"offset":0.35,"color":"#1f9d1f"},{"offset":0.3775,"color":"#1f9d1f"},{"offset":0.3775,"color":"#111111"},{"offset":0.4,"color":"#111111"},{"offset":0.4,"color":"#1f9d1f"},{"offset":0.4275,"color":"#1f9d1f"},{"offset":0.4275,"color":"#111111"},{"offset":0.45,"color":"#111111"},{"offset":0.45,"color":"#1f9d1f"},{"offset":0.4775,"color":"#1f9d1f"},{"offset":0.4775,"color":"#111111"},{"offset":0.5,"color":"#111111"},{"offset":0.5,"color":"#1f9d1f"},{"offset":0.5275,"color":"#1f9d1f"},{"offset":0.5275,"color":"#111111"},{"offset":0.55,"color":"#111111"},{"offset":0.55,"color":"#1f9d1f"},{"offset":0.5775,"color":"#1f9d1f"},{"offset":0.5775,"color":"#111111"},{"offset":0.6,"color":"#111111"},{"offset":0.6,"color":"#1f9d1f"},{"offset":0.6275,"color":"#1f9d1f"},{"offset":0.6275,"color":"#111111"},{"offset":0.65,"color":"#111111"},{"offset":0.65,"color":"#1f9d1f"},{"offset":0.6775,"color":"#1f9d1f"},{"offset":0.6775,"color":"#111111"},{"offset":0.7,"color":"#111111"},{"offset":0.7,"color":"#1f9d1f"},{"offset":0.7275,"color":"#1f9d1f"},{"offset":0.7275,"color":"#111111"},{"offset":0.75,"color":"#111111"},{"offset":0.75,"color":"#1f9d1f"},{"offset":0.7775,"color":"#1f9d1f"},{"offset":0.7775,"color":"#111111"},{"offset":0.8,"color":"#111111"},{"offset":0.8,"color":"#1f9d1f"},{"offset":0.8275,"color":"#1f9d1f"},{"offset":0.8275,"color":"#111111"},{"offset":0.85,"color":"#111111"},{"offset":0.85,"color":"#1f9d1f"},{"offset":0.8775,"color":"#1f9d1f"},{"offset":0.8775,"color":"#111111"},{"offset":0.9,"color":"#111111"},{"offset":0.9,"color":"#1f9d1f"},{"offset":0.9275,"color":"#1f9d1f"},{"offset":0.9275,"color":"#111111"},{"offset":0.95,"color":"#111111"},{"offset":0.95,"color":"#1f9d1f"},{"offset":0.9775,"color":"#1f9d1f"},{"offset":0.9775,"color":"#111111"},{"offset":1,"color":"#111111"}]}},"encoding":{"x":{"datum":0,"type":"quantitative"},"y":{"datum":0,"type":"quantitative"},"theta":{"field":"a0","type":"quantitative","stack":null,"scale":{"domain":[0,360],"range":[1.5707963,-4.712389]}},"theta2":{"field":"a1"},"radius":{"field":"r","type":"quantitative","stack":null,"scale":{"type":"linear","domain":[0,1],"range":[0,114]}}}},
{"data":{"values":[{"r":1}]},"mark":{"type":"arc","filled":false,"theta":0,"theta2":6.2832,"stroke":"#000000","strokeWidth":1.8},"encoding":{"x":{"datum":0,"type":"quantitative"},"y":{"datum":0,"type":"quantitative"},"radius":{"field":"r","type":"quantitative","stack":null,"scale":{"type":"linear","domain":[0,1],"range":[0,114]}}}},
{"data":{"values":[{}]},"mark":{"type":"arc","theta":0,"theta2":6.2832,"fill":"#000000"},"encoding":{"x":{"datum":0,"type":"quantitative"},"y":{"datum":0,"type":"quantitative"},"radius":{"datum":0.025,"type":"quantitative","scale":{"type":"linear","domain":[0,1],"range":[0,114]}}}},
{"data":{"name":"angles"},"mark":{"type":"text","fontSize":15,"align":"center","baseline":"middle"},"encoding":{"x":{"datum":0,"type":"quantitative"},"y":{"datum":0,"type":"quantitative"},"theta":{"field":"deg","type":"quantitative","stack":null,"scale":{"domain":[0,360],"range":[1.5707963,-4.712389]}},"radius":{"datum":1.114,"type":"quantitative","scale":{"type":"linear","domain":[0,1],"range":[0,114]}},"text":{"field":"label"}}},
{"data":{"name":"ticks1"},"mark":{"type":"text","fontSize":12,"align":"left","baseline":"middle","dx":1,"dy":-6,"color":"#000000"},"encoding":{"x":{"datum":0,"type":"quantitative"},"y":{"datum":0,"type":"quantitative"},"theta":{"datum":79,"type":"quantitative","scale":{"domain":[0,360],"range":[1.5707963,-4.712389]}},"radius":{"field":"r","type":"quantitative","stack":null,"scale":{"type":"linear","domain":[0,1],"range":[0,114]}},"text":{"field":"label"}}},
{"data":{"values":[{}]},"mark":{"type":"text","text":"MCF-10A FF15","fontSize":16,"align":"left","baseline":"alphabetic"},"encoding":{"x":{"datum":-1.263,"type":"quantitative"},"y":{"datum":-1.193,"type":"quantitative"}}},
{"data":{"values":[{}]},"mark":{"type":"rule","color":"#000000","strokeWidth":5.5},"encoding":{"x":{"datum":-0.544,"type":"quantitative"},"x2":{"datum":0.347},"y":{"datum":1.263,"type":"quantitative"}}},
{"data":{"values":[{}]},"mark":{"type":"point","shape":"M-1,-0.47L1,0L-1,0.47Z","size":1024,"filled":true,"color":"#000000","opacity":1,"strokeWidth":0},"encoding":{"x":{"datum":0.482,"type":"quantitative"},"y":{"datum":1.263,"type":"quantitative"}}},
{"data":{"values":[{}]},"mark":{"type":"text","text":"shear","fontSize":18,"align":"center","baseline":"alphabetic"},"encoding":{"x":{"datum":0.053,"type":"quantitative"},"y":{"datum":1.322,"type":"quantitative"}}}
]}
]
}
